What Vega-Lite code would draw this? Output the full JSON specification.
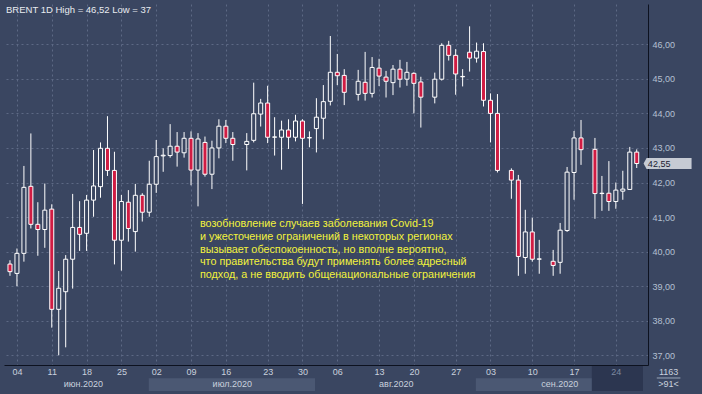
{
  "$schema": "https://vega.github.io/schema/vega-lite/v6.json",
  "width": 644,
  "height": 361,
  "autosize": {"type": "none"},
  "padding": {"left": 4, "top": 4, "right": 54, "bottom": 29},
  "background": "#3a4661",
  "view": {"fill": "#3a4661", "stroke": null},
  "title": {"text": "BRENT 1D High = 46,52 Low = 37", "anchor": "start", "frame": "group", "orient": "top", "offset": -18, "baseline": "alphabetic", "dx": 2, "fontSize": 9.5, "fontWeight": "normal", "color": "#e8ebf0", "font": "Liberation Sans"},
  "config": {"font": "Liberation Sans", "axis": {"title": null, "labelFont": "Liberation Sans"}},
  "datasets": {
    "ohlc": [
      {"i": 0, "o": 39.64, "h": 39.75, "l": 39.30, "c": 39.42},
      {"i": 1, "o": 39.37, "h": 40.09, "l": 39.00, "c": 39.95},
      {"i": 2, "o": 39.95, "h": 42.48, "l": 39.71, "c": 41.86},
      {"i": 3, "o": 41.89, "h": 43.42, "l": 40.67, "c": 40.79},
      {"i": 4, "o": 40.79, "h": 41.43, "l": 39.88, "c": 40.64},
      {"i": 5, "o": 40.64, "h": 41.97, "l": 40.11, "c": 41.20},
      {"i": 6, "o": 41.23, "h": 41.37, "l": 37.80, "c": 38.33},
      {"i": 7, "o": 38.33, "h": 39.44, "l": 37.00, "c": 38.94},
      {"i": 8, "o": 38.84, "h": 39.90, "l": 37.23, "c": 39.78},
      {"i": 9, "o": 39.78, "h": 41.67, "l": 38.93, "c": 40.70},
      {"i": 10, "o": 40.70, "h": 41.46, "l": 40.02, "c": 40.50},
      {"i": 11, "o": 40.53, "h": 41.64, "l": 40.02, "c": 41.49},
      {"i": 12, "o": 41.49, "h": 42.94, "l": 41.01, "c": 41.90},
      {"i": 13, "o": 41.88, "h": 43.16, "l": 41.56, "c": 42.99},
      {"i": 14, "o": 42.99, "h": 43.92, "l": 42.19, "c": 42.35},
      {"i": 15, "o": 42.35, "h": 42.89, "l": 39.63, "c": 40.33},
      {"i": 16, "o": 40.33, "h": 41.64, "l": 39.45, "c": 41.45},
      {"i": 17, "o": 41.43, "h": 41.78, "l": 40.29, "c": 40.67},
      {"i": 18, "o": 40.58, "h": 41.96, "l": 40.00, "c": 41.63},
      {"i": 19, "o": 41.63, "h": 41.69, "l": 40.87, "c": 41.14},
      {"i": 20, "o": 41.14, "h": 42.63, "l": 41.01, "c": 41.95},
      {"i": 21, "o": 41.95, "h": 43.23, "l": 41.70, "c": 42.75},
      {"i": 22, "o": 42.77, "h": 42.99, "l": 42.31, "c": 42.79},
      {"i": 23, "o": 42.78, "h": 43.69, "l": 42.72, "c": 43.05},
      {"i": 24, "o": 43.05, "h": 43.46, "l": 42.46, "c": 42.88},
      {"i": 25, "o": 42.86, "h": 43.46, "l": 42.72, "c": 43.28},
      {"i": 26, "o": 43.28, "h": 43.48, "l": 41.92, "c": 42.36},
      {"i": 27, "o": 42.36, "h": 43.43, "l": 41.31, "c": 43.26},
      {"i": 28, "o": 43.16, "h": 43.33, "l": 42.17, "c": 42.24},
      {"i": 29, "o": 42.24, "h": 43.21, "l": 41.81, "c": 43.00},
      {"i": 30, "o": 43.00, "h": 43.83, "l": 42.70, "c": 43.63},
      {"i": 31, "o": 43.63, "h": 43.81, "l": 43.14, "c": 43.28},
      {"i": 32, "o": 43.28, "h": 43.46, "l": 42.63, "c": 43.10},
      {"i": 34, "o": 43.10, "h": 43.43, "l": 42.35, "c": 43.19},
      {"i": 35, "o": 43.22, "h": 44.89, "l": 43.16, "c": 43.99},
      {"i": 36, "o": 43.98, "h": 44.42, "l": 43.62, "c": 44.30},
      {"i": 37, "o": 44.30, "h": 44.80, "l": 43.14, "c": 43.31},
      {"i": 38, "o": 43.31, "h": 43.89, "l": 42.78, "c": 43.32},
      {"i": 39, "o": 43.31, "h": 43.79, "l": 42.37, "c": 43.52},
      {"i": 40, "o": 43.52, "h": 43.83, "l": 42.97, "c": 43.31},
      {"i": 41, "o": 43.31, "h": 43.96, "l": 43.19, "c": 43.78},
      {"i": 42, "o": 43.78, "h": 43.83, "l": 41.38, "c": 43.28},
      {"i": 43, "o": 43.29, "h": 43.48, "l": 43.02, "c": 43.30},
      {"i": 44, "o": 43.56, "h": 44.44, "l": 42.87, "c": 43.89},
      {"i": 45, "o": 43.86, "h": 44.82, "l": 43.25, "c": 44.34},
      {"i": 46, "o": 44.35, "h": 46.24, "l": 44.23, "c": 45.19},
      {"i": 47, "o": 45.19, "h": 45.72, "l": 44.82, "c": 45.09},
      {"i": 48, "o": 45.10, "h": 45.28, "l": 44.24, "c": 44.61},
      {"i": 50, "o": 44.55, "h": 45.26, "l": 44.37, "c": 44.93},
      {"i": 51, "o": 44.90, "h": 45.78, "l": 44.37, "c": 44.58},
      {"i": 52, "o": 44.58, "h": 45.63, "l": 44.46, "c": 45.33},
      {"i": 53, "o": 45.31, "h": 45.58, "l": 44.79, "c": 45.08},
      {"i": 54, "o": 45.05, "h": 45.23, "l": 44.46, "c": 44.93},
      {"i": 55, "o": 44.89, "h": 45.40, "l": 44.53, "c": 45.28},
      {"i": 56, "o": 45.28, "h": 45.55, "l": 44.75, "c": 44.99},
      {"i": 57, "o": 44.99, "h": 45.49, "l": 44.80, "c": 45.19},
      {"i": 58, "o": 45.16, "h": 45.19, "l": 44.00, "c": 44.87},
      {"i": 59, "o": 44.91, "h": 45.06, "l": 43.59, "c": 44.47},
      {"i": 61, "o": 44.47, "h": 45.18, "l": 44.29, "c": 44.99},
      {"i": 62, "o": 44.99, "h": 46.03, "l": 44.95, "c": 45.97},
      {"i": 63, "o": 45.97, "h": 46.10, "l": 45.53, "c": 45.68},
      {"i": 64, "o": 45.68, "h": 45.86, "l": 44.54, "c": 45.14},
      {"i": 65, "o": 45.06, "h": 45.28, "l": 44.78, "c": 45.07},
      {"i": 66, "o": 45.77, "h": 46.52, "l": 45.21, "c": 45.60},
      {"i": 67, "o": 45.60, "h": 46.05, "l": 45.47, "c": 45.80},
      {"i": 68, "o": 45.79, "h": 46.03, "l": 44.20, "c": 44.38},
      {"i": 69, "o": 44.38, "h": 44.58, "l": 43.16, "c": 44.00},
      {"i": 70, "o": 44.00, "h": 44.56, "l": 42.29, "c": 42.35},
      {"i": 72, "o": 42.35, "h": 42.41, "l": 41.53, "c": 42.07},
      {"i": 73, "o": 42.07, "h": 42.22, "l": 39.30, "c": 39.86},
      {"i": 74, "o": 39.83, "h": 41.21, "l": 39.36, "c": 40.57},
      {"i": 75, "o": 40.57, "h": 40.98, "l": 39.71, "c": 39.78},
      {"i": 76, "o": 39.78, "h": 40.34, "l": 39.36, "c": 39.79},
      {"i": 78, "o": 39.72, "h": 40.05, "l": 39.30, "c": 39.60},
      {"i": 79, "o": 39.69, "h": 40.83, "l": 39.36, "c": 40.62},
      {"i": 80, "o": 40.61, "h": 42.45, "l": 40.57, "c": 42.30},
      {"i": 81, "o": 42.29, "h": 43.49, "l": 41.50, "c": 43.29},
      {"i": 82, "o": 43.29, "h": 43.81, "l": 42.51, "c": 42.95},
      {"i": 84, "o": 42.96, "h": 43.29, "l": 40.95, "c": 41.68},
      {"i": 85, "o": 41.68, "h": 42.19, "l": 41.18, "c": 41.69},
      {"i": 86, "o": 41.69, "h": 42.62, "l": 41.18, "c": 41.45},
      {"i": 87, "o": 41.45, "h": 42.00, "l": 41.24, "c": 41.78},
      {"i": 88, "o": 41.75, "h": 42.34, "l": 41.50, "c": 41.81},
      {"i": 89, "o": 41.80, "h": 43.03, "l": 41.80, "c": 42.88},
      {"i": 90, "o": 42.88, "h": 42.96, "l": 42.42, "c": 42.55}
    ],
    "months": [
      {"m": "июл.2020", "s": 19.93, "e": 43.8},
      {"m": "сен.2020", "s": 66.9, "e": 90.9}
    ]
  },
  "layer": [
    {
      "data": {"name": "months"},
      "mark": {"type": "rect", "color": "#4b5873"},
      "encoding": {
        "x": {"field": "s", "type": "quantitative", "scale": {"domain": [-0.141, 90.9], "nice": false, "zero": false},
          "axis": {"orient": "bottom", "values": [10.46, 31.85, 55.41, 78.88], "labelExpr": "datum.value < 20 ? 'июн.2020' : datum.value < 40 ? 'июл.2020' : datum.value < 70 ? 'авг.2020' : 'сен.2020'", "grid": false, "ticks": false, "domain": false, "labelColor": "#c9d1dd", "labelFontSize": 9, "labelPadding": 14, "labelFlush": false, "labelOverlap": false, "zindex": 1}},
        "x2": {"field": "e"},
        "y": {"datum": 36.333, "type": "quantitative", "scale": {"domain": [36.719, 47.166], "nice": false, "zero": false}, "axis": null},
        "y2": {"datum": 35.97}
      }
    },
    {
      "data": {"values": [{"s": 83.55, "e": 90.9}]},
      "mark": {"type": "rect", "color": "#2c3650"},
      "encoding": {
        "x": {"field": "s", "type": "quantitative", "scale": {"domain": [-0.141, 90.9], "nice": false, "zero": false}, "axis": null},
        "x2": {"field": "e"},
        "y": {"datum": 36.719, "type": "quantitative", "scale": {"domain": [36.719, 47.166], "nice": false, "zero": false}, "axis": null},
        "y2": {"datum": 35.97}
      }
    },
    {
      "data": {"name": "ohlc"},
      "mark": {"type": "rule", "color": "#ffffff", "strokeWidth": 1},
      "encoding": {
        "x": {"field": "i", "type": "quantitative", "scale": {"domain": [-0.141, 90.9], "nice": false, "zero": false},
          "axis": {"orient": "bottom", "values": [1, 6, 11, 16, 21, 26, 31, 37, 42, 47, 53, 58, 64, 69, 75, 81, 87], "grid": true, "gridColor": "#5d6985", "gridDash": [2, 3], "labels": false, "ticks": false, "domain": false, "zindex": 0}},
        "y": {"field": "l", "type": "quantitative", "scale": {"domain": [36.719, 47.166], "nice": false, "zero": false},
          "axis": {"orient": "right", "values": [37, 38, 39, 40, 41, 42, 43, 44, 45, 46], "labelExpr": "replace(format(datum.value, '.2f'), '.', ',')", "grid": true, "gridColor": "#5d6985", "gridDash": [2, 3], "ticks": false, "domain": true, "domainColor": "#0d1220", "labelColor": "#b4c0d2", "labelFontSize": 9, "labelPadding": 4, "labelFlush": false, "labelOverlap": false, "zindex": 0}},
        "y2": {"field": "h"}
      }
    },
    {
      "data": {"name": "ohlc"},
      "mark": {"type": "bar", "orient": "vertical", "size": 4, "stroke": "#ffffff", "strokeWidth": 1},
      "encoding": {
        "x": {"field": "i", "type": "quantitative", "scale": {"domain": [-0.141, 90.9], "nice": false, "zero": false},
          "axis": {"orient": "bottom", "values": [1, 6, 11, 16, 21, 26, 31, 37, 42, 47, 53, 58, 64, 69, 75, 81, 87], "labelExpr": "['04','11','18','25','02','09','16','23','30','06','13','20','27','03','10','17','24'][indexof([1, 6, 11, 16, 21, 26, 31, 37, 42, 47, 53, 58, 64, 69, 75, 81, 87], datum.value)]", "grid": false, "ticks": false, "domain": true, "domainColor": "#0d1220", "labelColor": {"condition": {"test": "datum.value == 87", "value": "#7d89a0"}, "value": "#c9d1dd"}, "labelFontSize": 9, "labelPadding": 2, "labelFlush": false, "labelOverlap": false, "zindex": 1}},
        "y": {"field": "o", "type": "quantitative", "scale": {"domain": [36.719, 47.166], "nice": false, "zero": false}, "axis": null},
        "y2": {"field": "c"},
        "fill": {"condition": {"test": "datum.c < datum.o", "value": "#d01c43"}, "value": "#3a4661"}
      }
    },
    {
      "data": {"values": [{"t": "возобновление случаев заболевания Covid-19\nи ужесточение ограничений в некоторых регионах\nвызывает обеспокоенность, но вполне вероятно,\nчто правительства будут применять более адресный\nподход, а не вводить общенациональные ограничения"}]},
      "mark": {"type": "text", "lineBreak": "\n", "lineHeight": 12.6, "align": "left", "baseline": "alphabetic", "fontSize": 10.8, "color": "#f2f23c", "font": "Liberation Sans"},
      "encoding": {
        "x": {"datum": 27.28, "type": "quantitative", "scale": {"domain": [-0.141, 90.9], "nice": false, "zero": false}, "axis": null},
        "y": {"datum": 40.70, "type": "quantitative", "scale": {"domain": [36.719, 47.166], "nice": false, "zero": false}, "axis": null},
        "text": {"field": "t"}
      }
    },
    {
      "data": {"values": [{"p": 42.55, "t": "42,55"}]},
      "layer": [
        {
          "mark": {"type": "point", "shape": "M -1 0 L -0.875 -0.229 L 1 -0.229 L 1 0.229 L -0.875 0.229 Z", "size": 2304, "filled": true, "fill": "#c6cbd4", "opacity": 1, "strokeWidth": 0},
          "encoding": {
            "x": {"datum": 94.43, "type": "quantitative", "scale": {"domain": [-0.141, 90.9], "nice": false, "zero": false}, "axis": null},
            "y": {"field": "p", "type": "quantitative", "scale": {"domain": [36.719, 47.166], "nice": false, "zero": false}, "axis": null}
          }
        },
        {
          "mark": {"type": "text", "align": "left", "baseline": "middle", "fontSize": 9, "color": "#1b2232", "font": "Liberation Sans"},
          "encoding": {
            "x": {"datum": 91.6, "type": "quantitative", "scale": {"domain": [-0.141, 90.9], "nice": false, "zero": false}, "axis": null},
            "y": {"field": "p", "type": "quantitative", "scale": {"domain": [36.719, 47.166], "nice": false, "zero": false}, "axis": null},
            "text": {"field": "t"}
          }
        }
      ]
    },
    {
      "data": {"values": [{"t": "1163"}]},
      "mark": {"type": "text", "align": "center", "baseline": "middle", "fontSize": 9, "color": "#c9d1dd", "font": "Liberation Sans"},
      "encoding": {
        "x": {"datum": 94.57, "type": "quantitative", "scale": {"domain": [-0.141, 90.9], "nice": false, "zero": false}, "axis": null},
        "y": {"datum": 36.525, "type": "quantitative", "scale": {"domain": [36.719, 47.166], "nice": false, "zero": false}, "axis": null},
        "text": {"field": "t"}
      }
    },
    {
      "data": {"values": [{"t": ">91<"}]},
      "mark": {"type": "text", "align": "center", "baseline": "middle", "fontSize": 9, "color": "#c9d1dd", "font": "Liberation Sans"},
      "encoding": {
        "x": {"datum": 94.57, "type": "quantitative", "scale": {"domain": [-0.141, 90.9], "nice": false, "zero": false}, "axis": null},
        "y": {"datum": 36.178, "type": "quantitative", "scale": {"domain": [36.719, 47.166], "nice": false, "zero": false}, "axis": null},
        "text": {"field": "t"}
      }
    },
    {
      "data": {"values": [{"a": 92.88, "b": 96.27}]},
      "mark": {"type": "rule", "color": "#9aa6ba", "strokeWidth": 1},
      "encoding": {
        "x": {"field": "a", "type": "quantitative", "scale": {"domain": [-0.141, 90.9], "nice": false, "zero": false}, "axis": null},
        "x2": {"field": "b"},
        "y": {"datum": 36.343, "type": "quantitative", "scale": {"domain": [36.719, 47.166], "nice": false, "zero": false}, "axis": null}
      }
    }
  ],
  "resolve": {"axis": {"x": "independent", "y": "independent"}}
}
